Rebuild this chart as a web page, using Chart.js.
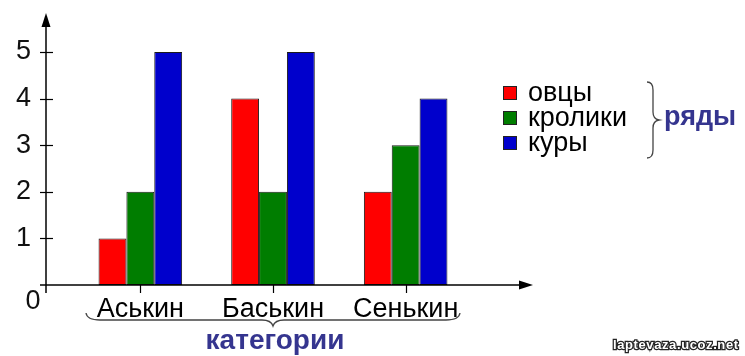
<!DOCTYPE html>
<html>
<head>
<meta charset="utf-8">
<script src="https://cdn.jsdelivr.net/npm/chart.js@4/dist/chart.umd.min.js"></script>
<style>
html,body{margin:0;padding:0;background:#fff;}
#wrap{width:745px;height:356px;}
</style>
</head>
<body>
<div id="wrap"><canvas id="c" width="745" height="356"></canvas></div>
<script>
const categories = ['Аськин', 'Баськин', 'Сенькин'];
const seriesNames = ['овцы', 'кролики', 'куры'];
const sheep = [1, 4, 2];
const rabbits = [2, 2, 3];
const hens = [5, 5, 4];
const yTicks = [0, 1, 2, 3, 4, 5];
const seriesColors = ['#FF0000', '#007D00', '#0000CC'];
const seriesTitle = 'ряды';
const categoryTitle = 'категории';
const watermark = 'laptevaza.ucoz.net';

const FONT = "'Liberation Sans', Arial, sans-serif";
const TITLE_COLOR = '#35358F';

const decor = {
  id: 'decor',
  afterDraw(chart) {
    const ctx = chart.ctx;
    const ca = chart.chartArea;
    const xs = chart.scales.x, ys = chart.scales.y;
    const ax = ca.left - 28;
    const y0 = ys.getPixelForValue(0);
    ctx.save();
    ctx.strokeStyle = '#000';
    ctx.fillStyle = '#000';
    ctx.lineWidth = 1.5;
    // y axis
    ctx.beginPath();
    ctx.moveTo(ax, y0 + 8);
    ctx.lineTo(ax, 24);
    ctx.stroke();
    ctx.beginPath();
    ctx.moveTo(ax, 13); ctx.lineTo(ax - 4.5, 27); ctx.lineTo(ax + 4.5, 27); ctx.closePath(); ctx.fill();
    // x axis
    ctx.beginPath();
    ctx.moveTo(ax - 6, y0);
    ctx.lineTo(522, y0);
    ctx.stroke();
    ctx.beginPath();
    ctx.moveTo(533, y0); ctx.lineTo(519, y0 - 4.5); ctx.lineTo(519, y0 + 4.5); ctx.closePath(); ctx.fill();
    // y ticks
    ctx.lineWidth = 1.2;
    yTicks.forEach(v => {
      if (v === 0) return;
      const py = Math.round(ys.getPixelForValue(v)) + 0.5;
      ctx.beginPath(); ctx.moveTo(ax - 6, py); ctx.lineTo(ax + 7, py); ctx.stroke();
    });
    // x ticks
    categories.forEach((c, i) => {
      const px = Math.round(xs.getPixelForValue(i)) + 0.5;
      ctx.beginPath(); ctx.moveTo(px, y0); ctx.lineTo(px, y0 + 8); ctx.stroke();
    });
    // zero label
    ctx.font = '27px ' + FONT;
    ctx.textAlign = 'center';
    ctx.textBaseline = 'middle';
    ctx.fillStyle = '#111';
    ctx.fillText('0', ax - 13, y0 + 17);

    // legend
    chart.data.datasets.forEach((ds, i) => {
      const cy = 93 + i * 25;
      ctx.fillStyle = ds.backgroundColor;
      ctx.fillRect(503, cy - 7, 14, 14);
      ctx.strokeStyle = '#222';
      ctx.lineWidth = 1;
      ctx.strokeRect(503.5, cy - 6.5, 13, 13);
      ctx.fillStyle = '#000';
      ctx.textAlign = 'left';
      ctx.textBaseline = 'middle';
      ctx.font = '27px ' + FONT;
      ctx.fillText(ds.label, 528, cy + 1);
    });

    // right brace
    ctx.strokeStyle = '#444';
    ctx.lineWidth = 1.3;
    ctx.beginPath();
    ctx.moveTo(647, 82);
    ctx.quadraticCurveTo(653, 82, 653, 90);
    ctx.lineTo(653, 112);
    ctx.quadraticCurveTo(653, 119, 659, 120);
    ctx.quadraticCurveTo(653, 121, 653, 128);
    ctx.lineTo(653, 150);
    ctx.quadraticCurveTo(653, 158, 647, 158);
    ctx.stroke();
    ctx.fillStyle = TITLE_COLOR;
    ctx.font = 'bold 27px ' + FONT;
    ctx.textAlign = 'left';
    ctx.textBaseline = 'middle';
    ctx.fillText(seriesTitle, 664, 118);

    // bottom brace
    ctx.strokeStyle = '#444';
    ctx.beginPath();
    ctx.moveTo(86, 313);
    ctx.quadraticCurveTo(87, 320, 100, 320);
    ctx.lineTo(262, 320);
    ctx.quadraticCurveTo(271, 320, 273, 326);
    ctx.quadraticCurveTo(275, 320, 284, 320);
    ctx.lineTo(446, 320);
    ctx.quadraticCurveTo(459, 320, 460, 313);
    ctx.stroke();
    ctx.fillStyle = TITLE_COLOR;
    ctx.font = 'bold 28px ' + FONT;
    ctx.textAlign = 'center';
    ctx.fillText(categoryTitle, 275, 341);

    // watermark
    ctx.font = 'bold 13px ' + FONT;
    ctx.textAlign = 'left';
    try { ctx.letterSpacing = '0.6px'; } catch (e) {}
    ctx.lineWidth = 2.5;
    ctx.strokeStyle = '#222';
    ctx.strokeText(watermark, 613, 345);
    ctx.fillStyle = '#fff';
    ctx.fillText(watermark, 613, 345);
    ctx.restore();
  }
};

const datasets = [sheep, rabbits, hens].map((vals, i) => ({
  label: seriesNames[i],
  data: vals,
  backgroundColor: seriesColors[i],
  borderColor: '#1a1a1a',
  borderWidth: 1,
  borderSkipped: false,
  categoryPercentage: 0.63,
  barPercentage: 1.0
}));

new Chart(document.getElementById('c'), {
  type: 'bar',
  data: { labels: categories, datasets },
  plugins: [decor],
  options: {
    responsive: false,
    animation: false,
    devicePixelRatio: 1,
    layout: { padding: { top: 52, right: 273, bottom: 0, left: 0 } },
    plugins: { legend: { display: false }, tooltip: { enabled: false } },
    scales: {
      x: {
        offset: true,
        grid: { display: false, drawTicks: false },
        border: { display: false },
        ticks: { color: '#000', font: { family: FONT, size: 27 }, padding: 8, maxRotation: 0, autoSkip: false },
        afterFit: s => { s.height = 71; }
      },
      y: {
        min: 0, max: 5,
        grid: { display: false, drawTicks: false },
        border: { display: false },
        afterBuildTicks: s => { s.ticks = yTicks.map(v => ({ value: v })); },
        ticks: {
          color: '#111', font: { family: FONT, size: 27 }, padding: 43,
          callback: v => (v === 0 ? '' : String(v))
        },
        afterFit: s => { s.width = 74; s.paddingTop = 10; s.paddingBottom = 10; }
      }
    }
  }
});
</script>
</body>
</html>
